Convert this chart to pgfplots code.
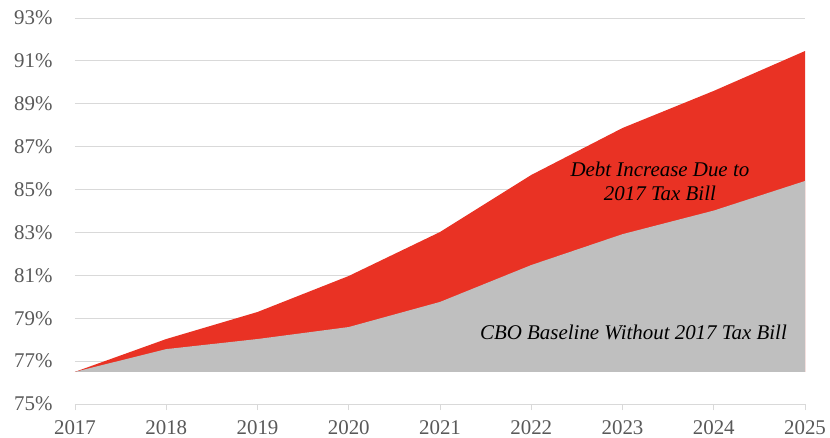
\documentclass[border=0pt]{standalone}
\usepackage{pgfplots}
\pgfplotsset{compat=1.18}
\usepackage{fontspec}
\setmainfont{Liberation Serif}
\definecolor{debtred}{RGB}{233,50,36}
\definecolor{basegray}{RGB}{191,191,191}
\definecolor{ticktext}{RGB}{89,89,89}
\definecolor{gridgray}{RGB}{217,217,217}
\begin{document}
\begin{tikzpicture}
\begin{axis}[
    scale only axis,
    width=730bp, height=386bp,
    xmin=2017, xmax=2025,
    ymin=75, ymax=93,
    xtick={2017,2018,2019,2020,2021,2022,2023,2024,2025},
    xticklabels={2017,2018,2019,2020,2021,2022,2023,2024,2025},
    ytick={75,77,79,81,83,85,87,89,91,93},
    yticklabels={75\%,77\%,79\%,81\%,83\%,85\%,87\%,89\%,91\%,93\%},
    ymajorgrids,
    grid style={gridgray, line width=0.8pt},
    axis x line*=bottom,
    axis y line*=left,
    y axis line style={draw=none},
    x axis line style={gridgray, line width=0.8pt, -},
    xtick style={gridgray, line width=0.8pt},
    major tick length=6bp,
    xtick align=outside,
    ytick style={draw=none},
    tick label style={font=\fontsize{21}{23}\selectfont, text=ticktext},
    xticklabel style={yshift=-7bp},
    yticklabel style={xshift=-19bp},
    /pgf/number format/assume math mode=true,
    clip=false,
]
% debt with the tax bill (top of red area)
\addplot[fill=debtred, draw=none] coordinates {
    (2017,76.50) (2018,78.03) (2019,79.29) (2020,80.97) (2021,83.02)
    (2022,85.68) (2023,87.87) (2024,89.60) (2025,91.46)
    (2025,76.50) (2017,76.50)
};
% CBO baseline (top of grey area)
\addplot[fill=basegray, draw=none] coordinates {
    (2017,76.50) (2018,77.56) (2019,78.03) (2020,78.59) (2021,79.76)
    (2022,81.48) (2023,82.92) (2024,84.02) (2025,85.40)
    (2025,76.50) (2017,76.50)
};
\node[font=\fontsize{21}{24}\selectfont\itshape, align=center, anchor=center]
    at (axis cs:2023.41,85.37) {Debt Increase Due to\\2017 Tax Bill};
\node[font=\fontsize{21}{24}\selectfont\itshape, anchor=center]
    at (axis cs:2023.12,78.36) {CBO Baseline Without 2017 Tax Bill};
% page margins as in the reference
\path (rel axis cs:0,0) ++(-75bp,-33bp);
\path (rel axis cs:1,1) ++(25bp,18bp);
\end{axis}
\end{tikzpicture}
\end{document}
